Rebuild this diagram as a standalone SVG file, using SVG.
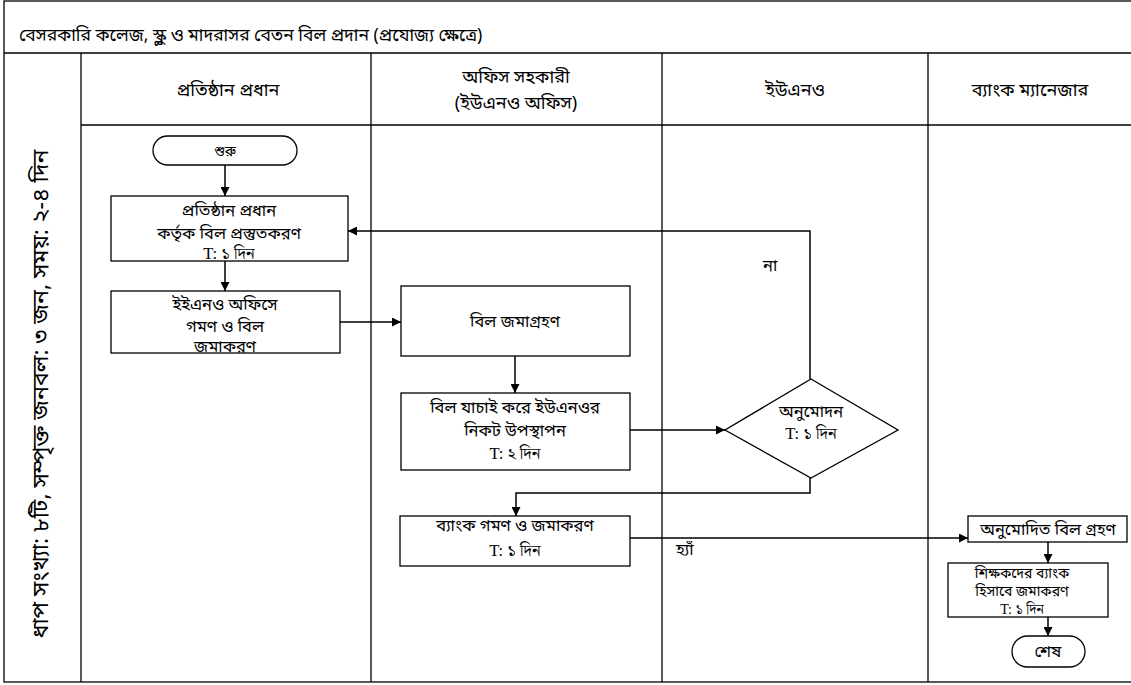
<svg xmlns="http://www.w3.org/2000/svg" width="1131" height="685" viewBox="0 0 1131 685">
<style>
.frame{fill:none;stroke:#000;stroke-width:1.3}
.node{fill:#fff;stroke:#000;stroke-width:1.3}
.edge{fill:none;stroke:#000;stroke-width:1.5}
text{font-family:"Noto Sans Bengali","Noto Serif Bengali","Lohit Bengali","FreeSerif","Liberation Serif",serif;font-size:16.5px;fill:#000}
.c{text-anchor:middle}
.lane{font-size:18px}
.t{font-family:"Liberation Serif","Noto Serif Bengali","Lohit Bengali","FreeSerif",serif;font-size:16.5px}
.s{font-size:14px}
</style>
<defs>
<marker id="arr" viewBox="0 0 10 10" refX="10" refY="5" markerWidth="6" markerHeight="6" markerUnits="strokeWidth" orient="auto">
<path d="M0,0 L10,5 L0,10 z" fill="#000"/>
</marker>
</defs>
<rect width="1131" height="685" fill="#fff"/>
<g id="frame">
<rect class="frame" x="4" y="1" width="1140" height="681"/>
<line class="frame" x1="4" y1="53" x2="1131" y2="53"/>
<line class="frame" x1="81" y1="125" x2="1131" y2="125"/>
<line class="frame" x1="81" y1="53" x2="81" y2="682"/>
<line class="frame" x1="371" y1="53" x2="371" y2="682"/>
<line class="frame" x1="662" y1="53" x2="662" y2="682"/>
<line class="frame" x1="928" y1="53" x2="928" y2="682"/>
<text x="19" y="41" style="font-size:17.5px">বেসরকারি কলেজ, স্কুল ও মাদরাসর বেতন বিল প্রদান (প্রযোজ্য ক্ষেত্রে)</text>
<text class="lane c" x="228" y="96">প্রতিষ্ঠান প্রধান</text>
<text class="lane c" x="516" y="83">অফিস সহকারী</text>
<text class="lane c" x="516" y="109">(ইউএনও অফিস)</text>
<text class="lane c" x="795" y="96">ইউএনও</text>
<text class="lane c" x="1030" y="96">ব্যাংক ম্যানেজার</text>
<text class="c" transform="translate(48,394) rotate(-90)" style="font-size:23px">ধাপ সংখ্যা: ৮টি, সম্পৃক্ত জনবল: ৩ জন, সময়: ২-৪ দিন</text>
</g>
<g id="connectors">
<line class="edge" x1="225" y1="165" x2="225" y2="196" marker-end="url(#arr)"/>
<line class="edge" x1="225" y1="261" x2="225" y2="291" marker-end="url(#arr)"/>
<line class="edge" x1="340" y1="322" x2="401" y2="322" marker-end="url(#arr)"/>
<line class="edge" x1="515" y1="356" x2="515" y2="393" marker-end="url(#arr)"/>
<line class="edge" x1="630" y1="430" x2="725" y2="430" marker-end="url(#arr)"/>
<polyline class="edge" points="810,379 810,231 348,231" marker-end="url(#arr)"/>
<polyline class="edge" points="810,478 810,493 516,493 516,516" marker-end="url(#arr)"/>
<line class="edge" x1="630" y1="538" x2="968" y2="538" marker-end="url(#arr)"/>
<line class="edge" x1="1048" y1="542" x2="1048" y2="563" marker-end="url(#arr)"/>
<line class="edge" x1="1048" y1="617" x2="1048" y2="636" marker-end="url(#arr)"/>
<text x="763" y="271">না</text>
<text x="676" y="555">হ্যাঁ</text>
</g>
<g id="start">
<rect class="node" x="153" y="136" width="144" height="29" rx="14.5"/>
<text class="c" x="225" y="156" style="font-size:14px">শুরু</text>
</g>
<g id="n1">
<rect class="node" x="111" y="196" width="237" height="65"/>
<text class="c" x="229" y="216">প্রতিষ্ঠান প্রধান</text>
<text class="c" x="229" y="239">কর্তৃক বিল প্রস্তুতকরণ</text>
<text class="c t" x="229" y="259">T: ১ দিন</text>
</g>
<g id="n2">
<rect class="node" x="111" y="291" width="229" height="62"/>
<text class="c" x="225" y="310">ইইএনও অফিসে</text>
<text class="c" x="225" y="332">গমণ ও বিল</text>
<text class="c" x="225" y="352">জমাকরণ</text>
</g>
<g id="n3">
<rect class="node" x="401" y="286" width="229" height="70"/>
<text class="c" x="515" y="327">বিল জমাগ্রহণ</text>
</g>
<g id="n4">
<rect class="node" x="401" y="393" width="229" height="77"/>
<text class="c" x="515" y="413">বিল যাচাই করে ইউএনওর</text>
<text class="c" x="515" y="436">নিকট উপস্থাপন</text>
<text class="c t" x="515" y="459">T: ২ দিন</text>
</g>
<g id="d1">
<polygon class="node" points="811,379 898,430 811,478 725,430"/>
<text class="c" x="811" y="417">অনুমোদন</text>
<text class="c t" x="811" y="439">T: ১ দিন</text>
</g>
<g id="n5">
<rect class="node" x="400" y="516" width="230" height="50"/>
<text class="c" x="515" y="531">ব্যাংক গমণ ও জমাকরণ</text>
<text class="c t" x="515" y="556">T: ১ দিন</text>
</g>
<g id="n6">
<rect class="node" x="968" y="516" width="159" height="26"/>
<text class="c" x="1048" y="535">অনুমোদিত বিল গ্রহণ</text>
</g>
<g id="n7">
<rect class="node" x="948" y="563" width="160" height="54"/>
<text class="c s" x="1022" y="578">শিক্ষকদের ব্যাংক</text>
<text class="c s" x="1022" y="596">হিসাবে জমাকরণ</text>
<text class="c t s" x="1022" y="614">T: ১ দিন</text>
</g>
<g id="end">
<rect class="node" x="1012" y="636" width="73" height="31" rx="15.5"/>
<text class="c" x="1048" y="657">শেষ</text>
</g>
</svg>
